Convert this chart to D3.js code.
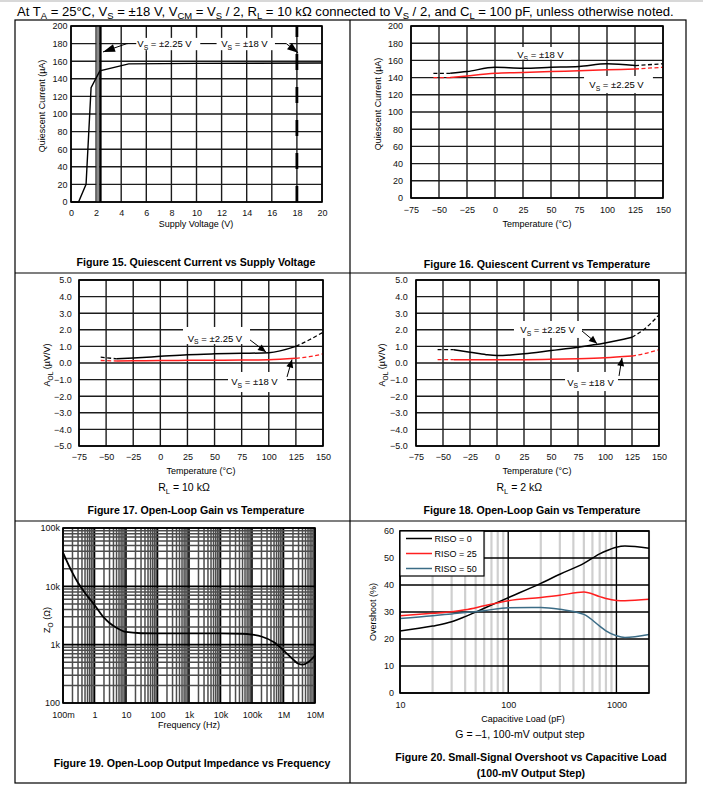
<!DOCTYPE html>
<html><head><meta charset="utf-8">
<script src="https://cdn.jsdelivr.net/npm/d3@7/dist/d3.min.js"></script>
<style>body{margin:0;background:#fff}svg{display:block}text{font-family:"Liberation Sans",Arial,Helvetica,sans-serif}</style>
</head><body><script>
// ---------------- DATA ----------------
// Figure 15: Quiescent current vs supply voltage
const f15Voltage = [0, 0.6, 1.2, 1.6, 2.3, 4.6, 10, 20];
const f15Current = [0, 0, 20, 130, 149, 157, 157.5, 158];
const f15XTicks = [0, 2, 4, 6, 8, 10, 12, 14, 16, 18, 20];
const f15YTicks = [0, 20, 40, 60, 80, 100, 120, 140, 160, 180, 200];
const f15Markers = [2.25, 18];

// Figure 16: Quiescent current vs temperature
const f16Temp = [-55, -40, -25, 0, 25, 50, 75, 100, 125, 150];
const f16Vs18 = [145, 145, 147, 152, 151, 152, 153, 156, 154, 156];
const f16Vs225 = [140, 140, 142, 145, 146, 147, 148, 149, 150, 152];
const tempTicks = [-75, -50, -25, 0, 25, 50, 75, 100, 125, 150];

// Figure 17: Open-loop gain vs temperature, RL = 10k
const f17Temp = [-55, -40, -25, 0, 25, 50, 75, 100, 125, 137.5, 150];
const f17Vs225 = [0.35, 0.25, 0.3, 0.4, 0.5, 0.55, 0.58, 0.62, 1.0, 1.4, 1.85];
const f17Vs18 = [0.15, 0.12, 0.13, 0.15, 0.16, 0.17, 0.18, 0.2, 0.28, 0.38, 0.55];
const aolTicks = [-5, -4, -3, -2, -1, 0, 1, 2, 3, 4, 5];

// Figure 18: Open-loop gain vs temperature, RL = 2k
const f18Temp = [-55, -40, -25, -10, 0, 25, 50, 75, 100, 125, 137.5, 150];
const f18Vs225 = [0.8, 0.8, 0.65, 0.5, 0.45, 0.55, 0.75, 0.95, 1.2, 1.55, 2.1, 2.9];
const f18Vs18 = [0.2, 0.2, 0.2, 0.2, 0.2, 0.2, 0.22, 0.26, 0.32, 0.42, 0.58, 0.8];

// Figure 19: Open-loop output impedance vs frequency
const f19Freq = [0.1, 0.2, 0.3, 0.5, 1, 2, 3, 5, 10, 30, 100, 1e3, 1e4, 5e4, 1e5, 2e5, 5e5, 1e6, 2e6, 3e6, 4e6, 6e6, 1e7];
const f19Zo = [38000, 17000, 11500, 7700, 4800, 2900, 2350, 1950, 1650, 1570, 1560, 1560, 1560, 1540, 1490, 1380, 1100, 800, 560, 470, 455, 500, 650];
const f19XTickVals = [0.1, 1, 10, 100, 1e3, 1e4, 1e5, 1e6, 1e7];
const f19XTickLabels = ["100m", "1", "10", "100", "1k", "10k", "100k", "1M", "10M"];
const f19YTickVals = [100, 1e3, 1e4, 1e5];
const f19YTickLabels = ["100", "1k", "10k", "100k"];

// Figure 20: Small-signal overshoot vs capacitive load
const f20Load = [10, 20, 30, 40, 60, 100, 200, 300, 500, 700, 800, 1000, 1200, 2000];
const f20Riso0 = [23, 24.8, 26.4, 28.3, 31.4, 35.3, 40.6, 44, 48, 51.5, 52.6, 54, 54.4, 53.6];
const f20Riso25 = [28.6, 29.5, 30.1, 30.8, 32.3, 34.2, 35.4, 36.2, 37.4, 35.7, 35, 34.3, 34.2, 34.7];
const f20Riso50 = [27.6, 28.6, 29.3, 29.8, 30.5, 31.6, 31.7, 31, 29.1, 24.8, 23, 21.2, 20.6, 21.7];
const f20Names = ["RISO = 0", "RISO = 25", "RISO = 50"];
const f20XTicks = [10, 100, 1000];
const f20YTicks = [0, 10, 20, 30, 40, 50, 60];

// ---------------- DRAWING ----------------
const svg = d3.select("body").append("svg").attr("width", 703).attr("height", 793);
const FONT = '"Liberation Sans", Arial, Helvetica, sans-serif';
const RED = "#ff1f1f", TEAL = "#3b6c86";

function rich(g, x, y, parts, size, opts = {}) {
  const t = g.append("text").attr("x", x).attr("y", y).attr("font-size", size)
    .attr("text-anchor", opts.anchor || "start").attr("fill", opts.fill || "#000");
  if (opts.weight) t.attr("font-weight", opts.weight);
  if (opts.transform) t.attr("transform", opts.transform);
  let shifted = false;
  parts.forEach(p => {
    const s = typeof p === "string" ? p : p[0];
    const sub = typeof p !== "string";
    const ts = t.append("tspan").text(s);
    if (sub && !shifted) { ts.attr("dy", size * 0.28); shifted = true; }
    else if (!sub && shifted) { ts.attr("dy", -size * 0.28); shifted = false; }
    if (sub) ts.attr("font-size", size * 0.72);
  });
  return t;
}

function styleAxis(sel, fs) {
  sel.select(".domain").remove();
  sel.selectAll("text").attr("font-size", fs).attr("font-family", FONT).attr("fill", "#111");
}

function gridPanel(o) {
  const g = svg.append("g");
  const x = (o.xLog ? d3.scaleLog() : d3.scaleLinear()).domain(o.xDomain).range([o.L, o.R]);
  const y = (o.yLog ? d3.scaleLog() : d3.scaleLinear()).domain(o.yDomain).range([o.B, o.T]);
  return { g, x, y, o };
}

function linearGrid(p, xTicks, yTicks) {
  const { g, x, y, o } = p;
  g.append("g").selectAll("line").data(xTicks).join("line")
    .attr("x1", d => x(d)).attr("x2", d => x(d)).attr("y1", o.T).attr("y2", o.B)
    .attr("stroke", "#1c1c1c").attr("stroke-width", 1.4);
  g.append("g").selectAll("line").data(yTicks).join("line")
    .attr("y1", d => y(d)).attr("y2", d => y(d)).attr("x1", o.L).attr("x2", o.R)
    .attr("stroke", "#1c1c1c").attr("stroke-width", 1.4);
}

function axes(p, xTicks, yTicks, xFmt, yFmt, xPad, yPad, fs) {
  const { g, x, y, o } = p;
  g.append("g").attr("transform", `translate(0,${o.B})`)
    .call(d3.axisBottom(x).tickValues(xTicks).tickSize(0).tickPadding(xPad).tickFormat(xFmt))
    .call(s => styleAxis(s, fs));
  g.append("g").attr("transform", `translate(${o.L},0)`)
    .call(d3.axisLeft(y).tickValues(yTicks).tickSize(0).tickPadding(yPad).tickFormat(yFmt))
    .call(s => styleAxis(s, fs));
}

function frame(p) {
  const { g, o } = p;
  g.append("rect").attr("x", o.L).attr("y", o.T).attr("width", o.R - o.L).attr("height", o.B - o.T)
    .attr("fill", "none").attr("stroke", "#000").attr("stroke-width", 1.6);
}

function whiteBox(p, x0, x1, y0, y1) {
  const { g, x, y } = p;
  g.append("rect").attr("x", x(x0)).attr("y", y(y0)).attr("width", x(x1) - x(x0)).attr("height", y(y1) - y(y0))
    .attr("fill", "#fff");
}

function arrow(g, x1, y1, x2, y2, len = 9, hw = 3.5) {
  g.append("line").attr("x1", x1).attr("y1", y1).attr("x2", x2).attr("y2", y2)
    .attr("stroke", "#000").attr("stroke-width", 1);
  const a = Math.atan2(y2 - y1, x2 - x1);
  const bx = x2 - len * Math.cos(a), by = y2 - len * Math.sin(a);
  const nx = -Math.sin(a) * hw, ny = Math.cos(a) * hw;
  g.append("path").attr("d", `M${x2},${y2}L${bx + nx},${by + ny}L${bx - nx},${by - ny}Z`).attr("fill", "#000");
}

function splitSeries(p, xs, ys, color, lo, hi) {
  const { g, x, y } = p;
  const pts = xs.map((v, i) => [v, ys[i]]);
  const line = d3.line().x(d => x(d[0])).y(d => y(d[1])).curve(d3.curveMonotoneX);
  const left = pts.filter(d => d[0] <= lo), mid = pts.filter(d => d[0] >= lo && d[0] <= hi), right = pts.filter(d => d[0] >= hi);
  [left, right].forEach(seg => {
    g.append("path").datum(seg).attr("d", line).attr("fill", "none").attr("stroke", color)
      .attr("stroke-width", 1.3).attr("stroke-dasharray", "4,2.5");
  });
  g.append("path").datum(mid).attr("d", line).attr("fill", "none").attr("stroke", color).attr("stroke-width", 1.5);
}

const fmtInt = d3.format("d"), fmt1 = d3.format(".1f");
function vsParts(v) { return ["V", ["S"], ` = ±${v} V`]; }

// -------- Header --------
svg.append("rect").attr("x", 0).attr("y", 0).attr("width", 703).attr("height", 2).attr("fill", "#d8d8d8");
rich(svg, 17, 15.5, ["At T", ["A"], " = 25°C, V", ["S"], " = ±18 V, V", ["CM"], " = V", ["S"], " / 2, R", ["L"],
  " = 10 kΩ connected to V", ["S"], " / 2, and C", ["L"], " = 100 pF, unless otherwise noted."], 13.1);

// -------- Panel frames --------
const frameG = svg.append("g").attr("fill", "none").attr("stroke", "#000").attr("stroke-width", 1.2);
frameG.append("rect").attr("x", 15).attr("y", 20).attr("width", 671).attr("height", 763);
frameG.append("line").attr("x1", 350).attr("x2", 350).attr("y1", 20).attr("y2", 783);
frameG.append("line").attr("x1", 15).attr("x2", 686).attr("y1", 273).attr("y2", 273);
frameG.append("line").attr("x1", 15).attr("x2", 686).attr("y1", 521).attr("y2", 521);

// -------- Figure 15 --------
{
  const p = gridPanel({ L: 71, R: 322, T: 26, B: 202, xDomain: [0, 20], yDomain: [0, 200] });
  const { g, x, y, o } = p;
  linearGrid(p, f15XTicks, f15YTicks);
  axes(p, f15XTicks, f15YTicks, fmtInt, fmtInt, 7.8, 3.5, 9);
  g.append("rect").attr("x", x(f15Markers[0]) - 2.7).attr("y", o.T).attr("width", 3).attr("height", o.B - o.T).attr("fill", "#8a8a8a");
  g.append("line").attr("x1", x(f15Markers[0]) + 1.2).attr("x2", x(f15Markers[0]) + 1.2).attr("y1", o.T).attr("y2", o.B)
    .attr("stroke", "#000").attr("stroke-width", 2.4);
  g.append("line").attr("x1", x(f15Markers[1])).attr("x2", x(f15Markers[1])).attr("y1", o.B).attr("y2", o.T)
    .attr("stroke", "#000").attr("stroke-width", 2.8).attr("stroke-dasharray", "16,17");
  g.append("path").datum(f15Voltage.map((v, i) => [v, f15Current[i]]))
    .attr("d", d3.line().x(d => x(d[0])).y(d => y(d[1])))
    .attr("fill", "none").attr("stroke", "#000").attr("stroke-width", 1.4);
  whiteBox(p, 4.5, 17.4, 186.5, 172.5);
  rich(g, x(7.45), y(180) + 3.4, vsParts("2.25"), 9.5, { anchor: "middle" });
  rich(g, x(13.82), y(180) + 3.4, vsParts("18"), 9.5, { anchor: "middle" });
  const hl = (a, b) => g.append("line").attr("x1", x(a)).attr("x2", x(b)).attr("y1", y(180)).attr("y2", y(180)).attr("stroke", "#000").attr("stroke-width", 1.1);
  hl(4.45, 5.2); hl(10.3, 11.6); hl(16.25, 17.15);
  arrow(g, x(4.45), y(180), x(2.55), y(170.5), 12, 4);
  arrow(g, x(17.15), y(180), x(18.1), y(169.5), 11, 4);
  frame(p);
  g.append("text").attr("x", 196).attr("y", 227).attr("text-anchor", "middle").attr("font-size", 9).text("Supply Voltage (V)");
  g.append("text").attr("transform", "translate(45,106) rotate(-90)").attr("text-anchor", "middle").attr("font-size", 9).text("Quiescent Current  (µA)");
  g.append("text").attr("x", 196).attr("y", 265.8).attr("text-anchor", "middle").attr("font-size", 10.6).attr("font-weight", "bold")
    .text("Figure 15. Quiescent Current vs Supply Voltage");
}

// -------- Figure 16 --------
{
  const p = gridPanel({ L: 411, R: 663, T: 26, B: 198, xDomain: [-75, 150], yDomain: [0, 200] });
  const { g, x, y } = p;
  linearGrid(p, tempTicks, f15YTicks);
  axes(p, tempTicks, f15YTicks, fmtInt, fmtInt, 8.5, 8, 9);
  whiteBox(p, 16.1, 67.9, 175.6, 161);
  whiteBox(p, 79.5, 141, 141.9, 122);
  splitSeries(p, f16Temp, f16Vs18, "#000", -40, 125);
  splitSeries(p, f16Temp, f16Vs225, RED, -40, 125);
  rich(g, x(40.6), y(166.6) + 3.4, vsParts("18"), 9.5, { anchor: "middle" });
  rich(g, x(108.5), y(131.7) + 3.4, vsParts("2.25"), 9.5, { anchor: "middle" });
  frame(p);
  g.append("text").attr("x", 537).attr("y", 227).attr("text-anchor", "middle").attr("font-size", 9).text("Temperature (°C)");
  g.append("text").attr("transform", "translate(381,104) rotate(-90)").attr("text-anchor", "middle").attr("font-size", 9).text("Quiescent Current (µA)");
  g.append("text").attr("x", 537).attr("y", 267.8).attr("text-anchor", "middle").attr("font-size", 10.6).attr("font-weight", "bold")
    .text("Figure 16. Quiescent Current vs Temperature");
}

// -------- Figure 17 --------
{
  const p = gridPanel({ L: 79, R: 323, T: 280, B: 446, xDomain: [-75, 150], yDomain: [-5, 5] });
  const { g, x, y } = p;
  linearGrid(p, tempTicks, aolTicks);
  axes(p, tempTicks, aolTicks, fmtInt, fmt1, 7.5, 7.3, 9);
  whiteBox(p, 20.9, 82.7, 2.17, 1.14);
  whiteBox(p, 62.4, 116.8, -0.54, -1.75);
  splitSeries(p, f17Temp, f17Vs225, "#000", -40, 125);
  splitSeries(p, f17Temp, f17Vs18, RED, -40, 125);
  rich(g, x(50.4), y(1.49) + 3.4, vsParts("2.25"), 9.5, { anchor: "middle" });
  rich(g, x(86.8), y(-1.14) + 3.4, vsParts("18"), 9.5, { anchor: "middle" });
  arrow(g, x(82.7), y(1.39), x(97.4), y(0.66), 8, 3.5);
  arrow(g, x(116.8), y(-0.84), x(121.4), y(0.21), 8, 3.5);
  frame(p);
  g.append("text").attr("x", 201).attr("y", 474).attr("text-anchor", "middle").attr("font-size", 9).text("Temperature (°C)");
  rich(g, 0, 0, ["A", ["OL"], " (µV/V)"], 9, { anchor: "middle", transform: "translate(50,365) rotate(-90)" });
  rich(g, 184, 490.7, ["R", ["L"], " = 10 kΩ"], 10.5, { anchor: "middle" });
  g.append("text").attr("x", 196).attr("y", 513.8).attr("text-anchor", "middle").attr("font-size", 10.6).attr("font-weight", "bold")
    .text("Figure 17. Open-Loop Gain vs Temperature");
}

// -------- Figure 18 --------
{
  const p = gridPanel({ L: 416, R: 659, T: 280, B: 446, xDomain: [-75, 150], yDomain: [-5, 5] });
  const { g, x, y } = p;
  linearGrid(p, tempTicks, aolTicks);
  axes(p, tempTicks, aolTicks, fmtInt, fmt1, 7.5, 8.3, 9);
  whiteBox(p, 15.7, 78.7, 2.53, 1.51);
  whiteBox(p, 63, 112, -0.54, -1.69);
  splitSeries(p, f18Temp, f18Vs225, "#000", -40, 125);
  splitSeries(p, f18Temp, f18Vs18, RED, -40, 125);
  rich(g, x(46.8), y(2.0) + 3.4, vsParts("2.25"), 9.5, { anchor: "middle" });
  rich(g, x(86.6), y(-1.16) + 3.4, vsParts("18"), 9.5, { anchor: "middle" });
  arrow(g, x(78.7), y(1.93), x(92.6), y(1.17), 8, 3.5);
  arrow(g, x(113), y(-0.78), x(115.7), y(0.3), 8, 3.5);
  frame(p);
  g.append("text").attr("x", 537).attr("y", 474).attr("text-anchor", "middle").attr("font-size", 9).text("Temperature (°C)");
  rich(g, 0, 0, ["A", ["OL"], " (µV/V)"], 9, { anchor: "middle", transform: "translate(385,365) rotate(-90)" });
  rich(g, 519.3, 490.7, ["R", ["L"], " = 2 kΩ"], 10.5, { anchor: "middle" });
  g.append("text").attr("x", 532).attr("y", 513.8).attr("text-anchor", "middle").attr("font-size", 10.6).attr("font-weight", "bold")
    .text("Figure 18. Open-Loop Gain vs Temperature");
}

// -------- Figure 19 --------
{
  const p = gridPanel({ L: 63, R: 315, T: 528, B: 703, xLog: true, yLog: true, xDomain: [0.1, 1e7], yDomain: [100, 1e5] });
  const { g, x, y, o } = p;
  const isMajor = v => Math.abs(Math.log10(v) - Math.round(Math.log10(v))) < 1e-9;
  g.append("g").selectAll("line").data(x.ticks()).join("line")
    .attr("x1", d => x(d)).attr("x2", d => x(d)).attr("y1", o.T).attr("y2", o.B)
    .attr("stroke", d => isMajor(d) ? "#000" : "#4d4d4d").attr("stroke-width", d => isMajor(d) ? 1.6 : 1.5);
  g.append("g").selectAll("line").data(y.ticks()).join("line")
    .attr("y1", d => y(d)).attr("y2", d => y(d)).attr("x1", o.L).attr("x2", o.R)
    .attr("stroke", d => isMajor(d) ? "#000" : "#4d4d4d").attr("stroke-width", d => isMajor(d) ? 1.6 : 1.5);
  g.append("g").attr("transform", `translate(0,${o.B})`)
    .call(d3.axisBottom(x).tickValues(f19XTickVals).tickSize(0).tickPadding(8.8).tickFormat((d, i) => f19XTickLabels[i]))
    .call(s => styleAxis(s, 9));
  g.append("g").attr("transform", `translate(${o.L},0)`)
    .call(d3.axisLeft(y).tickValues(f19YTickVals).tickSize(0).tickPadding(3).tickFormat((d, i) => f19YTickLabels[i]))
    .call(s => styleAxis(s, 9));
  g.append("path").datum(f19Freq.map((f, i) => [f, f19Zo[i]]))
    .attr("d", d3.line().x(d => x(d[0])).y(d => y(d[1])).curve(d3.curveMonotoneX))
    .attr("fill", "none").attr("stroke", "#000").attr("stroke-width", 1.8);
  frame(p);
  g.append("text").attr("x", 189).attr("y", 728).attr("text-anchor", "middle").attr("font-size", 9).text("Frequency (Hz)");
  rich(g, 0, 0, ["Z", ["O"], " (Ω)"], 9, { anchor: "middle", transform: "translate(50,620) rotate(-90)" });
  g.append("text").attr("x", 192).attr("y", 766.8).attr("text-anchor", "middle").attr("font-size", 10.6).attr("font-weight", "bold")
    .text("Figure 19. Open-Loop Output Impedance vs Frequency");
}

// -------- Figure 20 --------
{
  const p = gridPanel({ L: 400, R: 649, T: 531, B: 693, xLog: true, xDomain: [10, 2000], yDomain: [0, 60] });
  const { g, x, y, o } = p;
  const isMajor = v => Math.abs(Math.log10(v) - Math.round(Math.log10(v))) < 1e-9;
  g.append("g").selectAll("line").data(x.ticks().filter(d => !isMajor(d))).join("line")
    .attr("x1", d => x(d)).attr("x2", d => x(d)).attr("y1", o.T).attr("y2", o.B)
    .attr("stroke", "#cfcfcf").attr("stroke-width", 2.2);
  g.append("g").selectAll("line").data(f20XTicks).join("line")
    .attr("x1", d => x(d)).attr("x2", d => x(d)).attr("y1", o.T).attr("y2", o.B)
    .attr("stroke", "#000").attr("stroke-width", 1.4);
  g.append("g").selectAll("line").data(f20YTicks).join("line")
    .attr("y1", d => y(d)).attr("y2", d => y(d)).attr("x1", o.L).attr("x2", o.R)
    .attr("stroke", "#000").attr("stroke-width", 1.4);
  g.append("g").attr("transform", `translate(0,${o.B})`)
    .call(d3.axisBottom(x).tickValues(f20XTicks).tickSize(0).tickPadding(8.8).tickFormat(fmtInt))
    .call(s => styleAxis(s, 9));
  g.append("g").attr("transform", `translate(${o.L},0)`)
    .call(d3.axisLeft(y).tickValues(f20YTicks).tickSize(0).tickPadding(6).tickFormat(fmtInt))
    .call(s => styleAxis(s, 9));
  const series = [f20Riso0, f20Riso25, f20Riso50];
  const colors = ["#000", RED, TEAL];
  const line = d3.line().x(d => x(d[0])).y(d => y(d[1])).curve(d3.curveMonotoneX);
  series.forEach((s, k) => {
    g.append("path").datum(f20Load.map((c, i) => [c, s[i]])).attr("d", line)
      .attr("fill", "none").attr("stroke", colors[k]).attr("stroke-width", 1.5);
  });
  frame(p);
  const lg = g.append("g");
  lg.append("rect").attr("x", o.L).attr("y", o.T).attr("width", 84).attr("height", 45)
    .attr("fill", "#fff").attr("stroke", "#000").attr("stroke-width", 1.2);
  f20Names.forEach((n, k) => {
    const yy = o.T + 7.5 + k * 15;
    lg.append("line").attr("x1", o.L + 6).attr("x2", o.L + 32).attr("y1", yy).attr("y2", yy)
      .attr("stroke", colors[k]).attr("stroke-width", 1.5);
    lg.append("text").attr("x", o.L + 34.5).attr("y", yy + 3.2).attr("font-size", 9).text(n);
  });
  g.append("text").attr("x", 523).attr("y", 722).attr("text-anchor", "middle").attr("font-size", 9).text("Capacitive Load (pF)");
  g.append("text").attr("transform", "translate(376,612) rotate(-90)").attr("text-anchor", "middle").attr("font-size", 9).text("Overshoot (%)");
  g.append("text").attr("x", 520).attr("y", 737.7).attr("text-anchor", "middle").attr("font-size", 10.5).text("G = –1, 100-mV output step");
  g.append("text").attr("x", 531).attr("y", 760.8).attr("text-anchor", "middle").attr("font-size", 10.6).attr("font-weight", "bold")
    .text("Figure 20. Small-Signal Overshoot vs Capacitive Load");
  g.append("text").attr("x", 531).attr("y", 776.8).attr("text-anchor", "middle").attr("font-size", 10.6).attr("font-weight", "bold")
    .text("(100-mV Output Step)");
}
</script></body></html>
